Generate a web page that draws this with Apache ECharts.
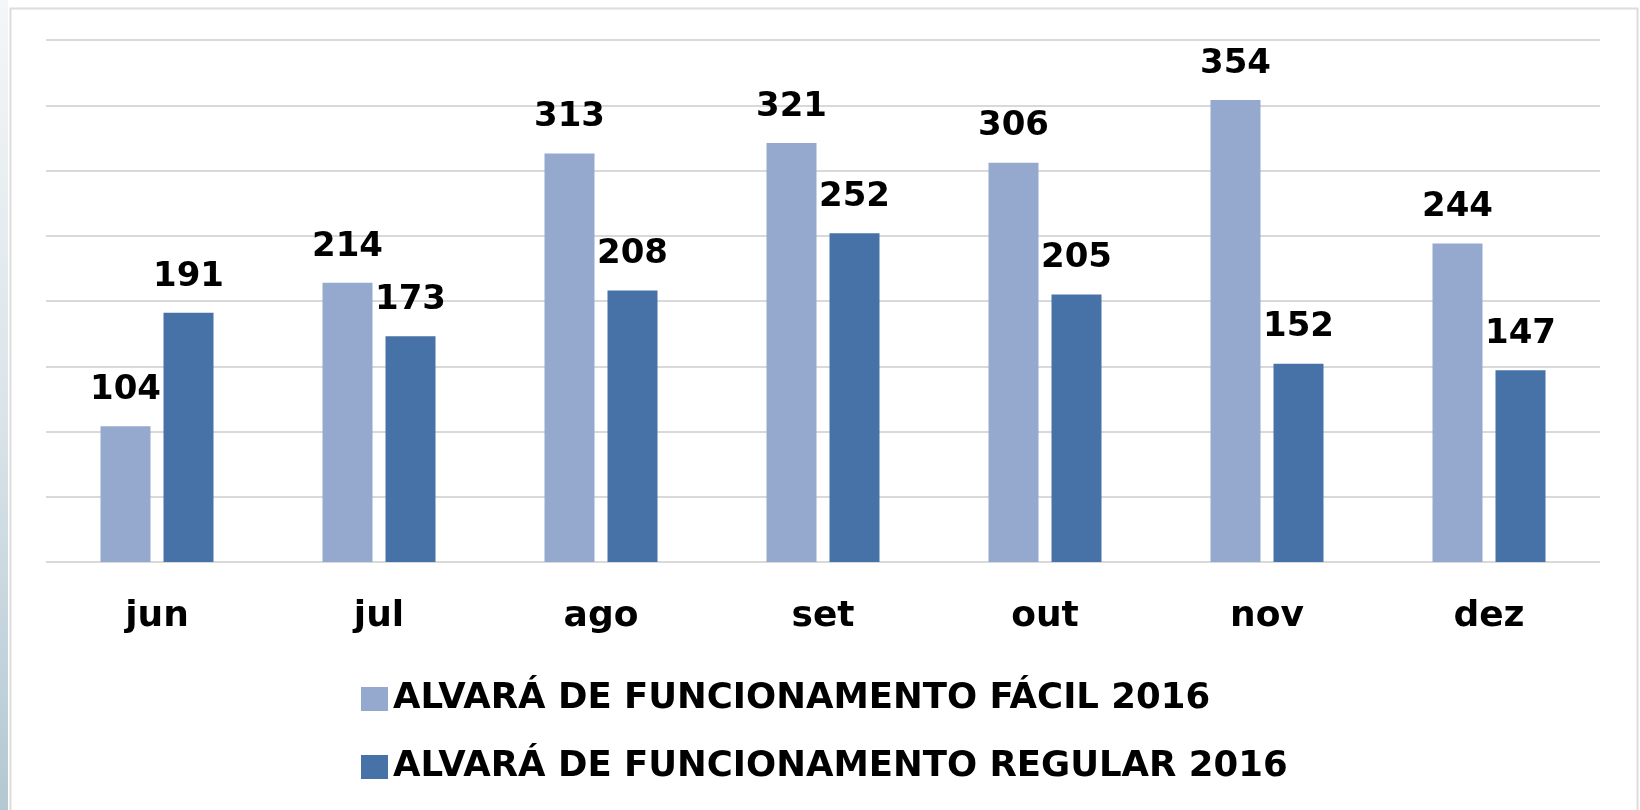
<!DOCTYPE html>
<html>
<head>
<meta charset="utf-8">
<script src="https://cdn.jsdelivr.net/npm/echarts@6/dist/echarts.min.js"></script>
<style>
html,body{margin:0;padding:0;background:#fff;}
#chart{width:1640px;height:810px;}
</style>
</head>
<body>
<div id="chart"></div>
<script>
const categories = ['jun', 'jul', 'ago', 'set', 'out', 'nov', 'dez'];
const seriesNames = ['ALVARÁ DE FUNCIONAMENTO FÁCIL 2016', 'ALVARÁ DE FUNCIONAMENTO REGULAR 2016'];
const facil = [104, 214, 313, 321, 306, 354, 244];
const regular = [191, 173, 208, 252, 205, 152, 147];

const FONT = 'DejaVu Sans';
const chart = echarts.init(document.getElementById('chart'), null, {renderer: 'canvas'});

const labelStyle = {
  show: true,
  position: 'top',
  distance: 19,
  fontFamily: FONT,
  fontWeight: 'bold',
  fontSize: 34,
  color: '#000'
};

chart.setOption({
  animation: false,
  backgroundColor: '#fff',
  graphic: [
    {
      type: 'rect',
      shape: {x: 0, y: 0, width: 8, height: 810},
      style: {
        fill: new echarts.graphic.LinearGradient(0, 0, 0, 1, [
          {offset: 0, color: '#f4f6f7'},
          {offset: 0.5, color: '#dbe4e9'},
          {offset: 1, color: '#b3c8d2'}
        ])
      },
      silent: true
    },
    {
      type: 'rect',
      shape: {x: 10.5, y: 8.5, width: 1627, height: 830},
      style: {fill: 'none', stroke: '#dcdcdc', lineWidth: 2},
      silent: true
    }
  ],
  grid: {left: 46, right: 40, top: 40, bottom: 248},
  legend: {
    orient: 'vertical',
    left: 356,
    top: 673,
    itemWidth: 27,
    itemHeight: 24,
    itemGap: 26,
    icon: 'rect',
    textStyle: {
      fontFamily: FONT,
      fontWeight: 'bold',
      fontSize: 35.5,
      lineHeight: 42,
      color: '#000'
    },
    data: seriesNames
  },
  xAxis: {
    type: 'category',
    data: categories,
    axisLine: {show: false},
    axisTick: {show: false},
    axisLabel: {
      margin: 37,
      fontFamily: FONT,
      fontWeight: 'bold',
      fontSize: 36,
      color: '#000'
    }
  },
  yAxis: {
    type: 'value',
    min: 0,
    max: 400,
    interval: 50,
    axisLabel: {show: false},
    axisLine: {show: false},
    axisTick: {show: false},
    splitLine: {lineStyle: {color: '#d9d9d9', width: 2}}
  },
  series: [
    {
      name: seriesNames[0],
      type: 'bar',
      data: facil,
      barWidth: 50,
      barGap: '26%',
      itemStyle: {color: '#95a9cf'},
      label: labelStyle
    },
    {
      name: seriesNames[1],
      type: 'bar',
      data: regular,
      barWidth: 50,
      barGap: '26%',
      itemStyle: {color: '#4672a7'},
      label: labelStyle
    }
  ]
});
</script>
</body>
</html>
